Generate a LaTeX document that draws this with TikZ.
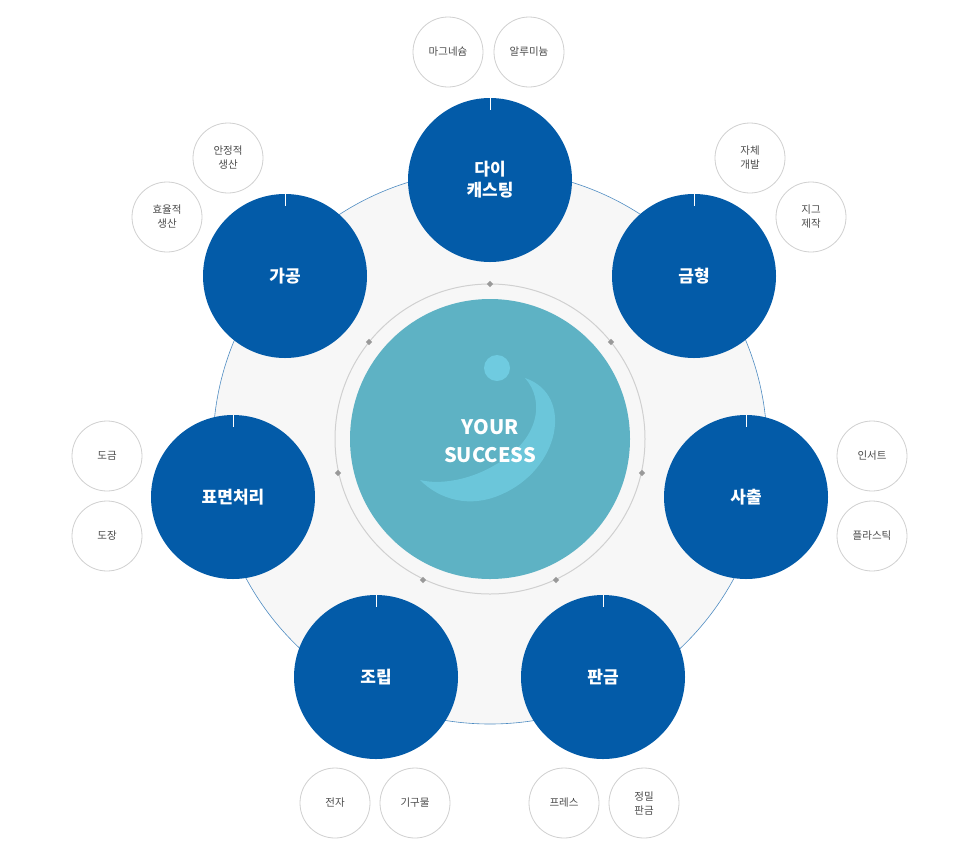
\documentclass[tikz,border=0pt]{standalone}
\usepackage{fontspec}
\setmainfont{Noto Sans CJK KR}
\usetikzlibrary{shapes}
\definecolor{navy}{HTML}{035BA8}
\definecolor{teal}{HTML}{5EB2C4}
\definecolor{logo}{HTML}{6FCBE0}
\definecolor{ringgray}{HTML}{D0D0D0}
\tikzset{
  main/.style={shape=circle,fill=navy,minimum size=164pt,inner sep=0pt,align=center,text=white,font=\bfseries\fontsize{17}{21}\selectfont},
  sub/.style={shape=circle,draw=ringgray,fill=white,line width=0.8pt,minimum size=70pt,inner sep=0pt,align=center,text=black!70,font=\fontsize{10.5}{14}\selectfont},
  dot/.style={shape=diamond,fill=gray!80,inner sep=1.6pt}
}
\begin{document}
\begin{tikzpicture}[x=1pt,y=-1pt]
\useasboundingbox (0,0) rectangle (966,860);
\draw[navy!70,fill=black!3,line width=0.6pt] (490,447) circle (277);
\draw[ringgray,line width=1pt] (490,439) circle (155);
\node[shape=circle,fill=teal,minimum size=280pt] (core) at (490,439) {};
\fill[logo] (497,368) circle (13);
\fill[logo,opacity=0.8] (525,378) .. controls (575,395) and (560,470) .. (500,495) .. controls (470,508) and (440,500) .. (420,480) .. controls (440,485) and (470,480) .. (495,465) .. controls (540,440) and (545,400) .. (525,378) -- cycle;
\node[text=white,font=\bfseries\fontsize{20}{28}\selectfont,align=center] (title) at (490,441) {YOUR\\SUCCESS};
\foreach \p in {(490,284),(611,342),(642,473),(556,580),(423,580),(338,473),(369,342)}
  \node[dot] at \p {};

\node[main] (0) at (490,180) {다이\\캐스팅};
\node[main] (1) at (694,276) {금형};
\node[main] (2) at (746,497) {사출};
\node[main] (3) at (603,677) {판금};
\node[main] (4) at (376,677) {조립};
\node[main] (5) at (233,497) {표면처리};
\node[main] (6) at (285,276) {가공};
\foreach \n in {0,...,6}
  \draw[white,line width=1pt] (\n.north) -- ++(0,12);

\node[sub] (a) at (448,52) {마그네슘};
\node[sub] (b) at (529,52) {알루미늄};
\node[sub] (c) at (750,158) {자체\\개발};
\node[sub] (d) at (811,217) {지그\\제작};
\node[sub] (e) at (872,456) {인서트};
\node[sub] (f) at (872,536) {플라스틱};
\node[sub] (g) at (564,803) {프레스};
\node[sub] (h) at (644,803) {정밀\\판금};
\node[sub] (i) at (335,803) {전자};
\node[sub] (j) at (415,803) {기구물};
\node[sub] (k) at (107,456) {도금};
\node[sub] (l) at (107,536) {도장};
\node[sub] (m) at (228,158) {안정적\\생산};
\node[sub] (n) at (167,217) {효율적\\생산};
\end{tikzpicture}
\end{document}
